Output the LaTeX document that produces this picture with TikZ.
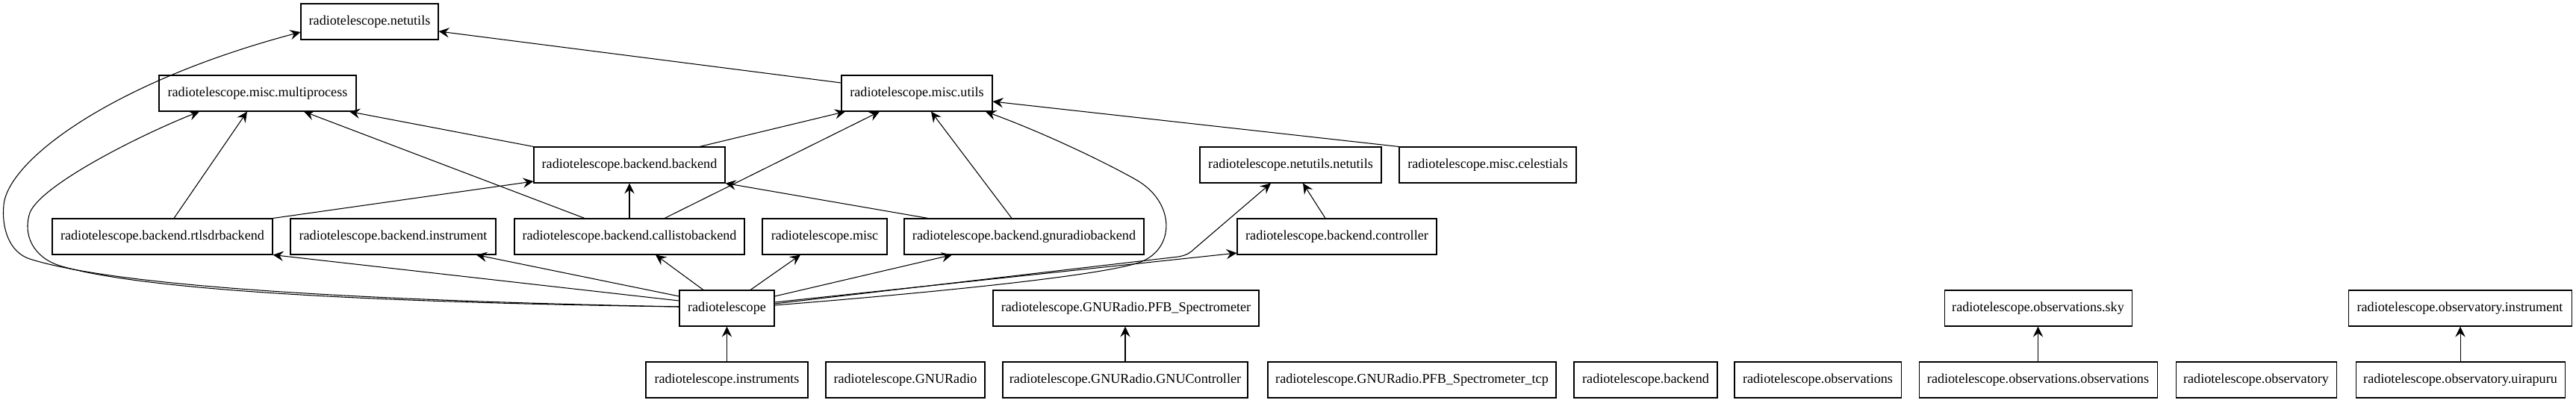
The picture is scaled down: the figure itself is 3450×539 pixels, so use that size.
\documentclass[tikz,border=0pt]{standalone}
\usepackage{fontspec}
\setmainfont{Liberation Serif}
\usetikzlibrary{arrows.meta,calc}
\tikzset{
  mod/.style={draw, line width=0.8pt, rectangle, minimum height=36pt, minimum width=#1,
    inner xsep=0pt, inner ysep=0pt, font=\fontsize{13.6}{16}\selectfont, anchor=center},
  dep/.style={line width=0.8pt, -{Stealth[length=10.5pt,width=10pt,inset=3.8pt]}},
}
\begin{document}
\begin{tikzpicture}[x=0.75pt,y=-0.75pt]
\useasboundingbox (0,0) rectangle (3450,539);
% row 1
\node[mod=138pt] (nu) at (495,29) {radiotelescope.netutils};
% row 2
\node[mod=198pt] (mp) at (345,125) {radiotelescope.misc.multiprocess};
\node[mod=151.5pt] (ut) at (1228,125) {radiotelescope.misc.utils};
% row 3
\node[mod=192pt] (bb) at (843,221) {radiotelescope.backend.backend};
\node[mod=182.25pt] (nn) at (1728.5,221) {radiotelescope.netutils.netutils};
\node[mod=177.75pt] (cel) at (1992.5,221) {radiotelescope.misc.celestials};
% row 4
\node[mod=221.25pt] (rtl) at (217.5,317) {radiotelescope.backend.rtlsdrbackend};
\node[mod=206.25pt] (bin) at (526.5,317) {radiotelescope.backend.instrument};
\node[mod=231pt] (cal) at (843,317) {radiotelescope.backend.callistobackend};
\node[mod=125.25pt] (misc) at (1104.5,317) {radiotelescope.misc};
\node[mod=240.75pt] (gnu) at (1371.5,317) {radiotelescope.backend.gnuradiobackend};
\node[mod=200.25pt] (ctl) at (1790.5,317) {radiotelescope.backend.controller};
% row 5
\node[mod=95.25pt] (rt) at (973.5,413) {radiotelescope};
\node[mod=267pt] (pfb) at (1508,413) {radiotelescope.GNURadio.PFB\_Spectrometer};
\node[mod=188.25pt] (sky) at (2729.5,413) {radiotelescope.observations.sky};
\node[mod=224.25pt] (oinst) at (3294.5,413) {radiotelescope.observatory.instrument};
% row 6
\node[mod=162.75pt] (inst) at (973.5,509) {radiotelescope.instruments};
\node[mod=159.75pt] (gr) at (1212.5,509) {radiotelescope.GNURadio};
\node[mod=246pt] (gc) at (1507,509) {radiotelescope.GNURadio.GNUController};
\node[mod=289.5pt] (tcp) at (1891,509) {radiotelescope.GNURadio.PFB\_Spectrometer\_tcp};
\node[mod=144pt] (be) at (2204,509) {radiotelescope.backend};
\node[mod=167.25pt] (obs) at (2434.5,509) {radiotelescope.observations};
\node[mod=239.25pt] (oo) at (2729.5,509) {radiotelescope.observations.observations};
\node[mod=161.25pt] (oy) at (3021.5,509) {radiotelescope.observatory};
\node[mod=210pt] (uir) at (3295,509) {radiotelescope.observatory.uirapuru};

% straight dependencies
\draw[dep] ($(ut.west)+(0,-14)$) -- ($(nu.east)+(0,13)$);
\draw[dep] (bb.north west) -- ($(mp.south)+(123,0)$);
\draw[dep] ($(bb.north)+(94,0)$) -- ($(ut.south)+(-96,0)$);
\draw[dep] ($(rtl.north)+(15.5,0)$) -- ($(mp.south)+(-14,0)$);
\draw[dep] (rtl.north east) -- ($(bb.west)+(0,22)$);
\draw[dep] ($(cal.north)+(-60,0)$) -- ($(mp.south)+(62,0)$);
\draw[dep] (cal.north) -- (bb.south);
\draw[dep] ($(cal.north)+(47,0)$) -- ($(ut.south)+(-50,0)$);
\draw[dep] ($(gnu.north)+(-128.5,0)$) -- (bb.south east);
\draw[dep] ($(gnu.north)+(-16.5,0)$) -- ($(ut.south)+(19,0)$);
\draw[dep] ($(ctl.north)+(-15.5,0)$) -- ($(nn.south)+(16.5,0)$);
\draw[dep] (cel.north west) -- ($(ut.east)+(0,11)$);

% from radiotelescope
\draw[dep] ($(rt.west)+(0,-2)$) .. controls (500,403) and (160,385) .. (40,347)
  .. controls (12,338) and (2,305) .. (5,275)
  .. controls (10,215) and (150,110) .. ($(nu.west)+(0,14)$);
\draw[dep] ($(rt.west)+(0,-2)$) .. controls (550,406) and (200,392) .. (80,356)
  .. controls (45,345) and (30,315) .. (40,285)
  .. controls (55,248) and (185,182) .. ($(mp.south)+(-78,0)$);
\draw[dep] ($(rt.west)+(0,-10)$) -- (rtl.south east);
\draw[dep] ($(rt.west)+(0,-16)$) -- ($(bin.south)+(111.5,0)$);
\draw[dep] ($(rt.north)+(-31.5,0)$) -- ($(cal.south)+(35,0)$);
\draw[dep] ($(rt.north)+(31.5,0)$) -- ($(misc.south)+(-32.5,0)$);
\draw[dep] ($(rt.east)+(0,-16)$) -- ($(gnu.south)+(-96.5,0)$);
\draw[dep] ($(rt.east)+(0,-8)$) -- ($(ctl.west)+(0,22)$);
\draw[dep] ($(rt.east)+(0,-6)$) -- (1578,344) .. controls (1590,342) and (1595,338) .. (1600,333)
  -- ($(nn.south)+(-26.5,0)$);
\draw[dep] ($(rt.east)+(0,-4)$) .. controls (1250,392) and (1470,370) .. (1525,352)
  .. controls (1575,335) and (1575,270) .. (1520,240)
  .. controls (1470,212) and (1390,175) .. ($(ut.south)+(92,0)$);
\draw[dep] (inst.north) -- (rt.south);

% other packages
\draw[dep] (gc.north) -- (gc.north |- pfb.south);
\draw[dep] (oo.north) -- (sky.south);
\draw[dep] (uir.north) -- (uir.north |- oinst.south);
\end{tikzpicture}
\end{document}
